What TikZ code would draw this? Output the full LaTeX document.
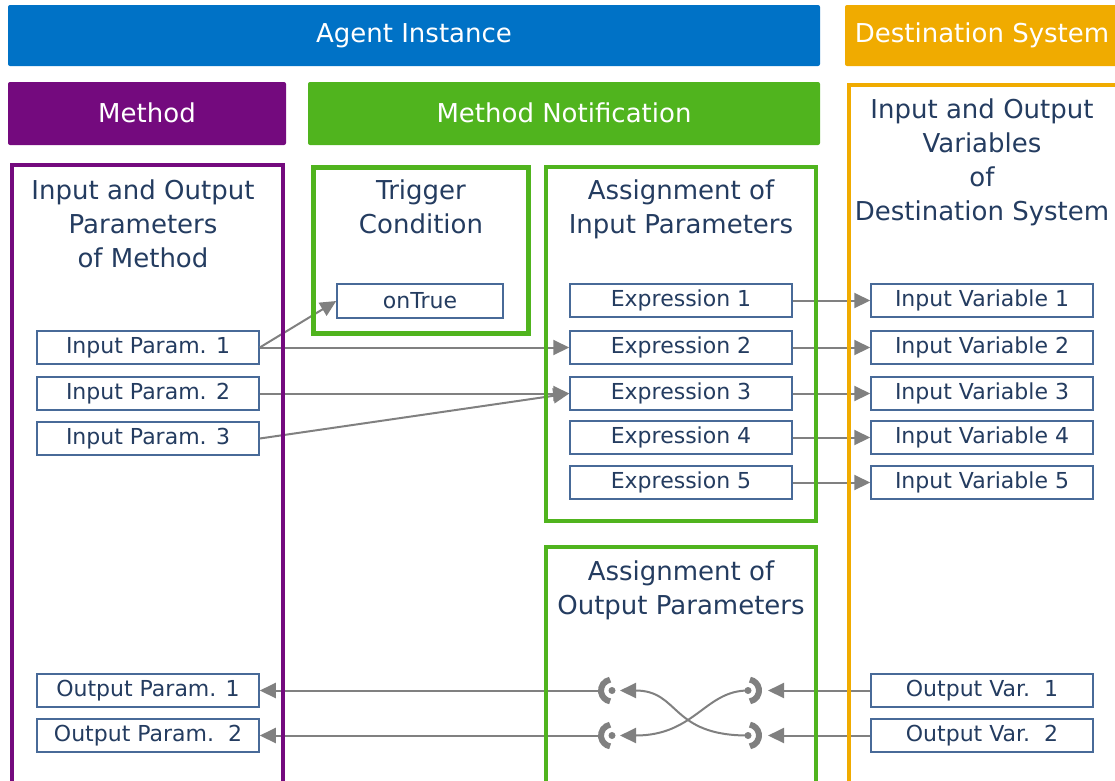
\documentclass[tikz,border=0pt]{standalone}
\usepackage{fontspec}
\setmainfont{DejaVu Sans}
\usetikzlibrary{arrows.meta}

\definecolor{agentblue}{RGB}{0,114,198}
\definecolor{destorange}{RGB}{240,171,0}
\definecolor{methpurple}{RGB}{116,10,126}
\definecolor{notegreen}{RGB}{80,180,30}
\definecolor{txtnavy}{RGB}{36,60,96}
\definecolor{boxline}{RGB}{72,106,152}
\definecolor{linegray}{RGB}{128,128,128}

\newcommand{\headfont}{\fontsize{26}{34}\selectfont}
\newcommand{\boxfont}{\fontsize{22}{26}\selectfont}

\tikzset{
  bar/.style={fill=#1, rounded corners=2pt, inner sep=0pt, text=white, font=\headfont},
  grp/.style={draw=#1, line width=4.5pt, inner sep=0pt},
  grptitle/.style={text=txtnavy, font=\headfont, align=center, inner sep=0pt},
  pbox/.style={draw=boxline, line width=1.5pt, fill=white, minimum width=222pt, minimum height=33pt, inner sep=0pt, text=txtnavy, font=\boxfont},
  conn/.style={draw=linegray, line width=2pt, -{Triangle[length=16pt,width=15pt]}},
  sockarc/.style={draw=linegray, line width=6pt},
}

\begin{document}
\begin{tikzpicture}[x=1pt,y=-1pt]
    \useasboundingbox (0,0) rectangle (1115,780);

    % header bars
    \node[bar=agentblue, minimum width=812pt, minimum height=61pt] (agent) at (414,35.5) {Agent Instance};
    \node[bar=destorange, minimum width=280pt, minimum height=61pt] (dest) at (985,35.5) {\hspace*{-6pt}Destination System};
    \node[bar=methpurple, minimum width=278pt, minimum height=63pt] (meth) at (147,113.5) {\raisebox{2pt}{Method}};
    \node[bar=notegreen, minimum width=512pt, minimum height=63pt] (note) at (564,113.5) {\raisebox{2pt}{Method Notification}};

    % small boxes
    \node[pbox, minimum width=166pt, minimum height=34pt] (ontrue) at (420,301) {onTrue};
    \node[pbox] (ip1) at (148,347.5) {Input Param. 1};
    \node[pbox] (ip2) at (148,393.5) {Input Param. 2};
    \node[pbox] (ip3) at (148,438.5) {Input Param. 3};
    \node[pbox] (ex1) at (681,300.5) {Expression 1};
    \node[pbox] (ex2) at (681,347.5) {Expression 2};
    \node[pbox] (ex3) at (681,393.5) {Expression 3};
    \node[pbox] (ex4) at (681,437.5) {Expression 4};
    \node[pbox] (ex5) at (681,482.5) {Expression 5};
    \node[pbox] (iv1) at (982,300.5) {Input Variable 1};
    \node[pbox] (iv2) at (982,347.5) {Input Variable 2};
    \node[pbox] (iv3) at (982,393.5) {Input Variable 3};
    \node[pbox] (iv4) at (982,437.5) {Input Variable 4};
    \node[pbox] (iv5) at (982,482.5) {Input Variable 5};
    \node[pbox] (op1) at (148,690.5) {Output Param. 1};
    \node[pbox] (op2) at (148,735.5) {Output Param.~~2};
    \node[pbox] (ov1) at (982,690.5) {Output Var.~~1};
    \node[pbox] (ov2) at (982,735.5) {Output Var.~~2};

    % sockets of the output assignment
    \coordinate (skl1) at (612,690.5);
    \coordinate (skl2) at (612,735.5);
    \coordinate (skr1) at (748,690.5);
    \coordinate (skr2) at (748,735.5);
    \coordinate (tipl1) at (620,690.5);
    \coordinate (tipl2) at (620,735.5);
    \coordinate (tipr1) at (768,690.5);
    \coordinate (tipr2) at (768,735.5);
    \coordinate (arcl1) at (598,690.5);
    \coordinate (arcl2) at (598,735.5);
    \fill[linegray] (skl1) circle[radius=3.5pt] (skl2) circle[radius=3.5pt]
                    (skr1) circle[radius=3.5pt] (skr2) circle[radius=3.5pt];
    \draw[sockarc] ([shift={(100:11pt)}]skl1) arc[start angle=100, end angle=260, radius=11pt];
    \draw[sockarc] ([shift={(100:11pt)}]skl2) arc[start angle=100, end angle=260, radius=11pt];
    \draw[sockarc] ([shift={(-80:11pt)}]skr1) arc[start angle=-80, end angle=80, radius=11pt];
    \draw[sockarc] ([shift={(-80:11pt)}]skr2) arc[start angle=-80, end angle=80, radius=11pt];

    % connectors
    \draw[conn] (ip1.east) -- (ontrue.west);
    \draw[conn] (ip1.east) -- (ex2.west);
    \draw[conn] (ip2.east) -- (ex3.west);
    \draw[conn] (ip3.east) -- (ex3.west);
    \draw[conn] (ex1.east) -- (iv1.west);
    \draw[conn] (ex2.east) -- (iv2.west);
    \draw[conn] (ex3.east) -- (iv3.west);
    \draw[conn] (ex4.east) -- (iv4.west);
    \draw[conn] (ex5.east) -- (iv5.west);
    \draw[conn] (ov1.west) -- (tipr1);
    \draw[conn] (ov2.west) -- (tipr2);
    \draw[conn] (skr1) .. controls (705,690.5) and (695,735.5) .. (tipl2);
    \draw[conn] (skr2) .. controls (670,735.5) and (680,690.5) .. (tipl1);
    \draw[conn] (arcl1) -- (op1.east);
    \draw[conn] (arcl2) -- (op2.east);

    % group outlines
    \node[grp=methpurple, minimum width=271pt, minimum height=635pt] (paramgrp) at (147.5,482.5) {};
    \node[grp=notegreen, minimum width=215pt, minimum height=166pt] (triggrp) at (421,250.5) {};
    \node[grp=notegreen, minimum width=270pt, minimum height=354pt] (assinp) at (681,344) {};
    \node[grp=notegreen, minimum width=270pt, minimum height=253pt] (assout) at (681,673.5) {};
    \node[grp=destorange, minimum width=281pt, minimum height=715pt] (destgrp) at (989.5,442.5) {};

    % group titles
    \node[grptitle] (paramtitle) at (143,224) {Input and Output\\Parameters\\of Method};
    \node[grptitle] (trigtitle) at (421,207) {Trigger\\Condition};
    \node[grptitle] (assinptitle) at (681,209) {Assignment of\\Input Parameters};
    \node[grptitle] (assouttitle) at (681,590) {Assignment of\\Output Parameters};
    \node[grptitle] (desttitle) at (982,162) {Input and Output\\Variables\\of\\Destination System};
  \end{tikzpicture}
\end{document}
